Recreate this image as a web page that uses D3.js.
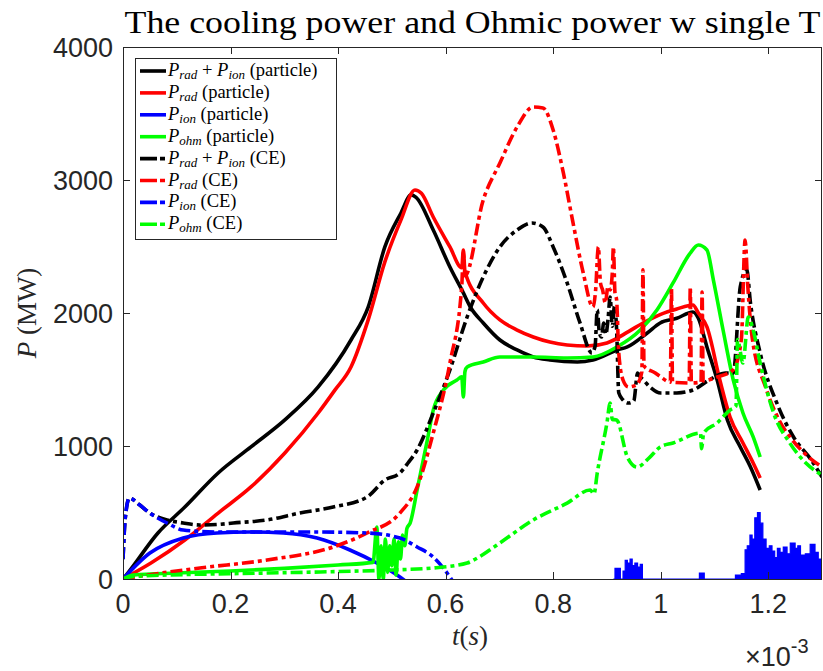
<!DOCTYPE html>
<html><head><meta charset="utf-8">
<script src="https://cdn.jsdelivr.net/npm/d3@7"></script>
<style>body{margin:0;background:#fff}svg{display:block}</style>
</head><body>
<script>
// ---- data (t in units of 1e-3 s, P in MW) ----
const xTicks = [0, 0.2, 0.4, 0.6, 0.8, 1, 1.2];
const xTickLabels = ["0", "0.2", "0.4", "0.6", "0.8", "1", "1.2"];
const yTicks = [0, 1000, 2000, 3000, 4000];
const yTickLabels = ["0", "1000", "2000", "3000", "4000"];
const titleText = "The cooling power and Ohmic power w single T";

const radIonPartT = [0,0.01,0.065,0.115,0.177,0.238,0.301,0.363,0.424,0.456,0.487,0.517,0.536,0.545,0.577,0.608,0.633,0.646,0.670,0.701,0.733,0.763,0.794,0.845,0.874,0.919,0.938,0.975,0.999,1.03,1.06,1.07,1.086,1.105,1.124,1.148,1.167,1.185];
const radIonPartP = [0,50,346,541,797,993,1196,1444,1797,2045,2497,2752,2888,2870,2624,2346,2151,2045,1925,1797,1722,1669,1647,1632,1647,1722,1745,1850,1925,1960,2008,1960,1745,1496,1196,993,842,669];

const radPartT = [0,0.052,0.115,0.177,0.238,0.301,0.363,0.394,0.424,0.456,0.487,0.517,0.543,0.555,0.577,0.608,0.630,0.633,0.636,0.670,0.701,0.733,0.763,0.794,0.826,0.863,0.9,0.94,0.967,1.0,1.03,1.06,1.07,1.086,1.11,1.129,1.153,1.172,1.185];
const radPartP = [0,120,293,496,692,947,1248,1420,1594,1948,2384,2700,2925,2900,2722,2497,2340,2474,2310,2075,1948,1872,1820,1782,1760,1752,1775,1860,1925,1990,2030,2060,2000,1895,1496,1218,1023,872,760];

const ionPartT = [0,0.05,0.112,0.175,0.236,0.298,0.361,0.422,0.472,0.515,0.53];
const ionPartP = [0,195,308,346,353,346,308,218,120,15,-30];
const ionTailT = [0.912,0.915,0.925,0.930,0.934,0.938,0.943,0.947,0.952,0.957,0.962,0.966, 1.072,1.074,1.081, 1.137,1.139,1.150,1.157,1.161,1.166,1.170,1.175,1.180,1.185,1.190,1.196,1.202,1.207,1.212,1.217,1.222,1.228,1.235,1.241,1.250,1.255,1.260,1.269,1.278,1.287,1.293,1.300];
const ionTailP = [0,80,0,60,140,120,150,100,120,90,110,0, 45,45,0, 0,30,40,220,250,330,300,460,500,420,300,230,250,210,160,230,200,240,190,270,230,250,180,190,260,200,150,150];

const ohmPartT = [0,0.02,0.1,0.2,0.3,0.4,0.465,0.472,0.476,0.48,0.484,0.488,0.492,0.496,0.5,0.504,0.508,0.512,0.516,0.52,0.524,0.528,0.534,0.547,0.566,0.577,0.596,0.621,0.630,0.633,0.636,0.64,0.67,0.701,0.763,0.826,0.874,0.919,0.962,0.993,1.023,1.055,1.07,1.086,1.098,1.116,1.135,1.153,1.172,1.185];
const ohmPartP = [0,30,45,60,80,105,125,390,0,250,0,300,50,250,100,300,30,280,150,330,250,380,420,670,1045,1270,1421,1496,1520,1368,1560,1594,1632,1669,1669,1662,1669,1745,1872,2023,2226,2451,2511,2474,2248,1872,1496,1248,1068,917];

const radIonCET = [0,0.004,0.012,0.03,0.05,0.082,0.112,0.143,0.175,0.205,0.268,0.329,0.391,0.454,0.487,0.515,0.53,0.547,0.577,0.608,0.64,0.67,0.701,0.733,0.761,0.781,0.8,0.826,0.85,0.872,0.878,0.882,0.886,0.89,0.894,0.898,0.902,0.906,0.91,0.914,0.918,0.922,0.93,0.94,0.95,0.957,0.962,0.967,0.98,1.0,1.03,1.06,1.09,1.12,1.135,1.148,1.16,1.167,1.185,1.216,1.247,1.28,1.3];
const radIonCEP = [150,450,609,560,496,444,421,406,410,421,444,496,541,617,744,797,872,970,1248,1572,1970,2271,2497,2624,2677,2647,2497,2226,1925,1700,1750,2022,1850,1820,1925,1840,1950,2120,1900,2050,1880,1400,1346,1323,1340,1549,1519,1500,1444,1399,1399,1421,1496,1549,1549,2196,2324,2075,1700,1323,1068,895,767];

const radCET = [0,0.03,0.143,0.268,0.391,0.454,0.515,0.547,0.577,0.608,0.630,0.633,0.636,0.67,0.701,0.733,0.763,0.781,0.8,0.819,0.837,0.856,0.874,0.879,0.884,0.888,0.892,0.897,0.902,0.906,0.91,0.912,0.915,0.918,0.922,0.93,0.94,0.955,0.965,0.967,0.969,0.99,1.0,1.018,1.02,1.022,1.053,1.055,1.057,1.075,1.077,1.079,1.105,1.135,1.15,1.157,1.162,1.17,1.195,1.22,1.245,1.275,1.3];
const radCEP = [0,20,83,143,241,346,496,692,1098,1624,2200,2450,2280,2850,3128,3399,3549,3542,3376,3053,2677,2301,2045,2173,2497,2226,2173,2075,2200,2173,2300,2497,2150,2100,1700,1496,1444,1460,1560,2324,1600,1549,1520,1480,2188,1480,1474,2196,1474,1480,2158,1490,1519,1572,1800,2549,2200,1820,1444,1196,1045,917,842];

const ionCET = [0,0.004,0.012,0.03,0.05,0.082,0.112,0.175,0.268,0.361,0.454,0.515,0.547,0.577,0.608,0.62];
const ionCEP = [150,450,609,560,496,421,368,353,353,353,346,308,241,165,15,-60];

const ohmCET = [0,0.02,0.268,0.367,0.5,0.577,0.64,0.659,0.701,0.763,0.826,0.869,0.876,0.882,0.9,0.906,0.91,0.918,0.938,0.956,0.98,0.999,1.023,1.074,1.076,1.08,1.105,1.129,1.14,1.143,1.153,1.163,1.172,1.185,1.21,1.24,1.27,1.3];
const ohmCEP = [0,20,45,53,68,83,120,158,271,444,571,669,640,797,1173,1323,1200,1196,917,842,917,993,1023,1098,980,1098,1173,1271,1300,1800,1624,1970,1872,1624,1248,1023,872,780];

const legendLabels = [
  [["P",1],["rad",2],[" + ",0],["P",1],["ion",2],[" (particle)",0]],
  [["P",1],["rad",2],[" (particle)",0]],
  [["P",1],["ion",2],[" (particle)",0]],
  [["P",1],["ohm",2],[" (particle)",0]],
  [["P",1],["rad",2],[" + ",0],["P",1],["ion",2],[" (CE)",0]],
  [["P",1],["rad",2],[" (CE)",0]],
  [["P",1],["ion",2],[" (CE)",0]],
  [["P",1],["ohm",2],[" (CE)",0]]
];
const seriesColors = ["#000000","#ff0000","#0000ff","#00ff00","#000000","#ff0000","#0000ff","#00ff00"];

// ---- drawing ----
const W = 823, H = 671;
const L = 123, R = 822, T = 47, B = 579;
const x = d3.scaleLinear().domain([0, 1.3]).range([L, R]);
const y = d3.scaleLinear().domain([0, 4000]).range([B, T]);
const svg = d3.select("body").append("svg").attr("width", W).attr("height", H);
svg.append("rect").attr("width", W).attr("height", H).attr("fill", "#fff");
svg.append("defs").append("clipPath").attr("id", "clip")
  .append("rect").attr("x", L).attr("y", T).attr("width", R - L).attr("height", B - T);

const zip = (a, b) => a.map((v, i) => [v, b[i]]);
const DASH = "12,4,4,4";
const series = [
  {d: zip(radIonPartT, radIonPartP), c: seriesColors[0], dash: null},
  {d: zip(radPartT, radPartP), c: seriesColors[1], dash: null},
  {d: zip(ionPartT, ionPartP), c: seriesColors[2], dash: null},
  {d: zip(ohmPartT, ohmPartP), c: seriesColors[3], dash: null},
  {d: zip(radIonCET, radIonCEP), c: seriesColors[4], dash: DASH},
  {d: zip(radCET, radCEP), c: seriesColors[5], dash: DASH},
  {d: zip(ionCET, ionCEP), c: seriesColors[6], dash: DASH},
  {d: zip(ohmCET, ohmCEP), c: seriesColors[7], dash: DASH}
];
const line = d3.line().curve(d3.curveMonotoneX).x(d => x(d[0])).y(d => y(d[1]));
const plot = svg.append("g").attr("clip-path", "url(#clip)");
series.forEach((s, i) => {
  plot.append("path").attr("d", line(s.d)).attr("fill", "none")
    .attr("stroke", s.c).attr("stroke-width", 3.6)
    .attr("stroke-linejoin", "round")
    .attr("stroke-dasharray", s.dash);
  if (i === 2) {
    const area = d3.area().curve(d3.curveStepAfter)
      .x(d => x(d[0])).y0(y(0)).y1(d => y(d[1]));
    plot.append("path").attr("d", area(zip(ionTailT, ionTailP)))
      .attr("fill", s.c).attr("stroke", s.c).attr("stroke-width", 1.2);
  }
});

// axes box
const axCol = "#262626";
svg.append("rect").attr("x", L + 0.5).attr("y", T + 0.5).attr("width", R - L - 1).attr("height", B - T)
  .attr("fill", "none").attr("stroke", axCol).attr("stroke-width", 1);
const tl = 7;
const tickG = svg.append("g").attr("stroke", axCol).attr("stroke-width", 1);
xTicks.forEach(v => {
  const px = Math.round(x(v)) + 0.5;
  tickG.append("line").attr("x1", px).attr("x2", px).attr("y1", B).attr("y2", B - tl);
  tickG.append("line").attr("x1", px).attr("x2", px).attr("y1", T).attr("y2", T + tl);
});
yTicks.forEach(v => {
  const py = Math.round(y(v)) + 0.5;
  tickG.append("line").attr("x1", L).attr("x2", L + tl).attr("y1", py).attr("y2", py);
  tickG.append("line").attr("x1", R).attr("x2", R - tl).attr("y1", py).attr("y2", py);
});
const sans = "'Liberation Sans', Arial, Helvetica, sans-serif";
const serif = "'Liberation Serif', 'DejaVu Serif', serif";
svg.append("g").selectAll("text").data(xTicks).join("text")
  .attr("x", d => x(d)).attr("y", 613).attr("text-anchor", "middle")
  .attr("font-family", sans).attr("font-size", 27).attr("fill", axCol)
  .text((d, i) => xTickLabels[i]);
svg.append("g").selectAll("text").data(yTicks).join("text")
  .attr("x", 113).attr("y", d => y(d) + 10).attr("text-anchor", "end")
  .attr("font-family", sans).attr("font-size", 27).attr("fill", axCol)
  .text((d, i) => yTickLabels[i]);
// x10^-3
const ex = svg.append("text").attr("x", 745).attr("y", 666).attr("font-family", sans)
  .attr("font-size", 27).attr("fill", axCol);
ex.append("tspan").text("×10");
ex.append("tspan").attr("font-size", 20).attr("dy", -13).text("-3");

// title
svg.append("text").attr("x", (L + R) / 2).attr("y", 33).attr("text-anchor", "middle")
  .attr("font-family", serif).attr("font-size", 31).attr("fill", "#000")
  .attr("textLength", 696).attr("lengthAdjust", "spacingAndGlyphs")
  .text(titleText);

// x label
const xl = svg.append("text").attr("x", 470).attr("y", 645).attr("text-anchor", "middle")
  .attr("font-family", serif).attr("font-size", 27).attr("fill", "#262626");
xl.append("tspan").attr("font-style", "italic").text("t");
xl.append("tspan").text("(");
xl.append("tspan").attr("font-style", "italic").text("s");
xl.append("tspan").text(")");
// y label
const yl = svg.append("text").attr("transform", "translate(36,313) rotate(-90)")
  .attr("text-anchor", "middle").attr("font-family", serif).attr("font-size", 27).attr("fill", "#262626");
yl.append("tspan").attr("font-style", "italic").text("P");
yl.append("tspan").text(" (MW)");

// legend
const lg = svg.append("g");
lg.append("rect").attr("x", 135.5).attr("y", 58.5).attr("width", 201).attr("height", 181)
  .attr("fill", "#fff").attr("stroke", axCol).attr("stroke-width", 1);
legendLabels.forEach((parts, i) => {
  const cy = 71 + i * 21.9;
  lg.append("line").attr("x1", 140).attr("x2", 166).attr("y1", cy).attr("y2", cy)
    .attr("stroke", seriesColors[i]).attr("stroke-width", 3.6)
    .attr("stroke-dasharray", i >= 4 ? "17,3,5,20" : null);
  const t = lg.append("text").attr("x", 168).attr("y", cy + 5)
    .attr("font-family", serif).attr("font-size", 18.5).attr("fill", "#000");
  let prevSub = false;
  parts.forEach(([s, k]) => {
    const ts = t.append("tspan").text(s);
    if (k >= 1) ts.attr("font-style", "italic");
    if (k === 2) { ts.attr("font-size", 13).attr("dy", 3); prevSub = true; }
    else if (prevSub) { ts.attr("dy", -3); prevSub = false; }
  });
});
</script>
</body></html>
